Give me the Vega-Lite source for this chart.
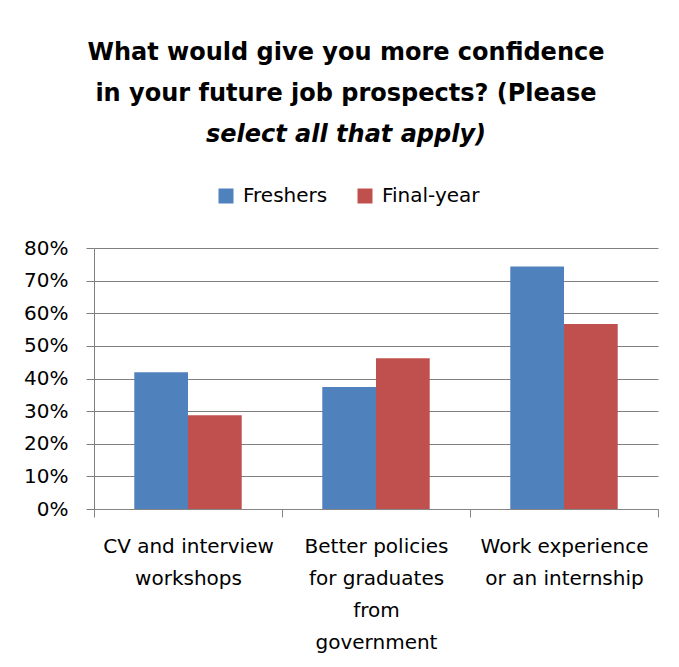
{
  "$schema": "https://vega.github.io/schema/vega-lite/v6.json",
  "autosize": {"type": "none"},
  "width": 564,
  "height": 261,
  "padding": {"left": 94, "top": 248, "right": 21, "bottom": 158},
  "background": "white",
  "title": {
    "text": ["What would give you more confidence", "in your future job prospects?  (Please"],
    "subtitle": ["select all that apply)"],
    "anchor": "middle",
    "dx": -30,
    "offset": 39,
    "font": "DejaVu Sans",
    "fontSize": 24,
    "fontWeight": "bold",
    "color": "black",
    "lineHeight": 41,
    "subtitleFont": "DejaVu Sans",
    "subtitleFontSize": 24,
    "subtitleFontWeight": "bold",
    "subtitleFontStyle": "italic",
    "subtitleColor": "black",
    "subtitlePadding": 17
  },
  "data": {
    "values": [
      {"option": "CV and interview workshops", "group": "Freshers", "share": 0.419},
      {"option": "CV and interview workshops", "group": "Final-year", "share": 0.287},
      {"option": "Better policies for graduates from government", "group": "Freshers", "share": 0.374},
      {"option": "Better policies for graduates from government", "group": "Final-year", "share": 0.462},
      {"option": "Work experience or an internship", "group": "Freshers", "share": 0.743},
      {"option": "Work experience or an internship", "group": "Final-year", "share": 0.567}
    ]
  },
  "mark": {"type": "bar"},
  "encoding": {
    "x": {
      "field": "option",
      "type": "nominal",
      "sort": null,
      "scale": {"paddingInner": 0, "paddingOuter": 0},
      "axis": {
        "title": null,
        "labelAngle": 0,
        "labelFont": "DejaVu Sans",
        "labelFontSize": 20,
        "labelColor": "black",
        "labelLineHeight": 32,
        "labelPadding": 19,
        "labelBaseline": "top",
        "ticks": true,
        "tickBand": "extent",
        "tickSize": 8,
        "tickColor": "#868686",
        "domainColor": "#868686",
        "labelLimit": 0,
        "labelExpr": "datum.value == 'CV and interview workshops' ? ['CV and interview', 'workshops'] : datum.value == 'Work experience or an internship' ? ['Work experience', 'or an internship'] : datum.value == 'Better policies for graduates from government' ? ['Better policies', 'for graduates', 'from', 'government'] : ''"
      }
    },
    "xOffset": {
      "field": "group",
      "type": "nominal",
      "sort": ["Freshers", "Final-year"],
      "scale": {"paddingInner": 0, "paddingOuter": 0.75}
    },
    "y": {
      "field": "share",
      "type": "quantitative",
      "scale": {"domain": [0, 0.8]},
      "axis": {
        "title": null,
        "values": [0, 0.1, 0.2, 0.3, 0.4, 0.5, 0.6, 0.7, 0.8],
        "format": ".0%",
        "labelFont": "DejaVu Sans",
        "labelFontSize": 20,
        "labelColor": "black",
        "labelPadding": 18,
        "tickSize": 8,
        "tickColor": "#7f7f7f",
        "domainColor": "#7f7f7f",
        "gridColor": "#7f7f7f",
        "grid": true
      }
    },
    "color": {
      "field": "group",
      "type": "nominal",
      "sort": ["Freshers", "Final-year"],
      "scale": {"domain": ["Freshers", "Final-year"], "range": ["#4F81BD", "#C0504D"]},
      "legend": {
        "title": null,
        "orient": "none",
        "direction": "horizontal",
        "legendX": 122,
        "legendY": -62,
        "symbolType": "square",
        "symbolSize": 225,
        "symbolStrokeWidth": 0,
        "labelFont": "DejaVu Sans",
        "labelFontSize": 20,
        "labelColor": "black",
        "labelOffset": 7,
        "columnPadding": 27
      }
    }
  },
  "config": {
    "view": {"stroke": null},
    "axis": {"gridWidth": 1, "domainWidth": 1, "tickWidth": 1}
  }
}
